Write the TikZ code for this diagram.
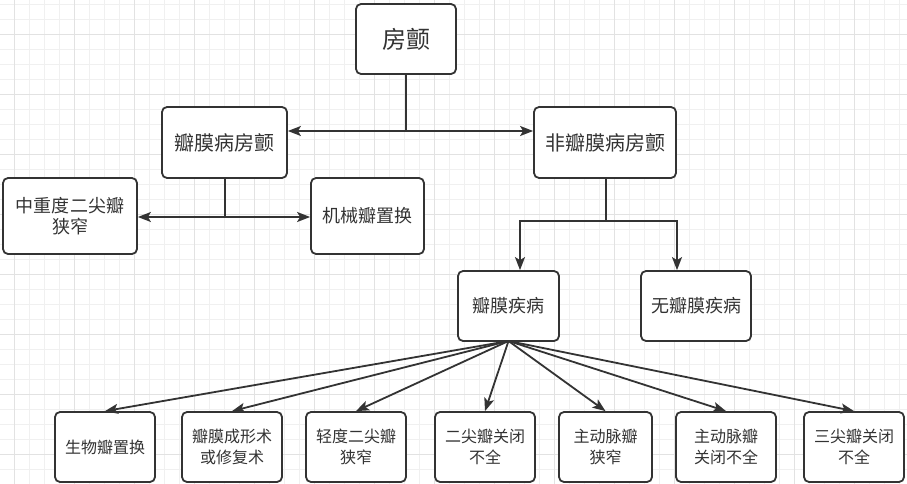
\documentclass[tikz,border=0pt]{standalone}
\usepackage{fontspec}
\setmainfont{Noto Sans CJK SC}
\usetikzlibrary{arrows.meta}
\definecolor{ink}{HTML}{333333}
\definecolor{gminor}{HTML}{F0F0F0}
\definecolor{gmajor}{HTML}{E2E2E2}
\begin{document}
\begin{tikzpicture}[x=1pt,y=-1pt,
  box/.style={draw=ink, line width=1.8pt, rounded corners=5pt, fill=white, text=ink, align=center, inner sep=0pt, minimum height=70pt},
  conn/.style={draw=ink, line width=1.8pt},
  tip/.tip={Stealth[length=13pt,width=10pt,inset=3pt]},
  arr/.style={conn, -tip},
  dbl/.style={conn, tip-tip},
  fA/.style={font=\fontsize{24}{29}\selectfont},
  fB/.style={font=\fontsize{20}{24}\selectfont},
  fC/.style={font=\fontsize{18}{21.7}\selectfont},
  fD/.style={font=\fontsize{16}{21}\selectfont}]
\fill[white] (0,0) rectangle (907,484);
\useasboundingbox (0,0) rectangle (907,484);
% grid
\foreach \x in {0,...,59} \draw[gminor, line width=1pt] ({14.5+15*\x},0) -- ({14.5+15*\x},484);
\foreach \y in {0,...,32} \draw[gminor, line width=1pt] (0,{4.5+15*\y}) -- (907,{4.5+15*\y});
\foreach \x in {0,...,14} \draw[gmajor, line width=1pt] ({14.5+60*\x},0) -- ({14.5+60*\x},484);
\foreach \y in {0,...,7} \draw[gmajor, line width=1pt] (0,{34.5+60*\y}) -- (907,{34.5+60*\y});
% nodes
\node[box, fA, minimum width=100pt] (fc) at (406,39) {房颤};
\node[box, fB, minimum width=125pt, minimum height=71pt] (vfc) at (224.5,142.5) {瓣膜病房颤};
\node[box, fB, minimum width=142pt, minimum height=71pt] (nvfc) at (605,142.5) {非瓣膜病房颤};
\node[box, fC, minimum width=134pt, minimum height=76pt] (mzd) at (70,216) {中重度二尖瓣\\狭窄};
\node[box, fC, minimum width=113pt, minimum height=76pt] (jx) at (367.5,216) {机械瓣置换};
\node[box, fC, minimum width=101pt] (vd) at (508.5,306) {瓣膜疾病};
\node[box, fC, minimum width=110pt] (nvd) at (696,306) {无瓣膜疾病};
\node[box, fD, minimum width=100pt] (b1) at (105,447) {生物瓣置换};
\node[box, fD, minimum width=100pt] (b2) at (232,447) {瓣膜成形术\\或修复术};
\node[box, fD, minimum width=100pt] (b3) at (356,447) {轻度二尖瓣\\狭窄};
\node[box, fD, minimum width=100pt] (b4) at (485,447) {二尖瓣关闭\\不全};
\node[box, fD, minimum width=93pt] (b5) at (605.5,447) {主动脉瓣\\狭窄};
\node[box, fD, minimum width=100pt] (b6) at (726,447) {主动脉瓣\\关闭不全};
\node[box, fD, minimum width=100pt] (b7) at (854,447) {三尖瓣关闭\\不全};
% junctions
\coordinate (j1) at (406,131);
\coordinate (j2) at (225,217);
\coordinate (j3) at (606,221);
\coordinate (k1) at (520,221);
\coordinate (k2) at (677,221);
\coordinate (src) at (508.5,341);
% connectors
\draw[conn] (fc.south) -- (j1);
\draw[dbl] (j1 -| vfc.east) -- (j1 -| nvfc.west);
\draw[conn] (vfc.south -| j2) -- (j2);
\draw[dbl] (j2 -| mzd.east) -- (j2 -| jx.west);
\draw[conn] (nvfc.south -| j3) -- (j3);
\draw[arr] (j3) -- (k1) -- (k1 |- vd.north);
\draw[arr] (j3) -- (k2) -- (k2 |- nvd.north);
\foreach \b in {b1,b2,b3,b4,b5,b6,b7} \draw[arr] (src) -- (\b.north);
\end{tikzpicture}
\end{document}
